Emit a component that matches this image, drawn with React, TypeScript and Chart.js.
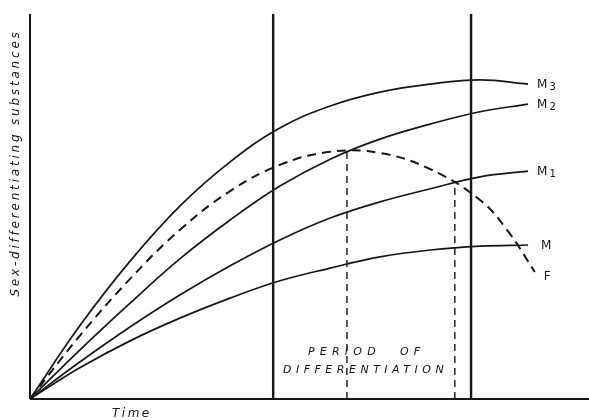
import React, { useEffect, useRef } from "react";
import { Chart, registerables } from "chart.js";

Chart.register(...registerables);

// Time axis (0..100) and substance level (0..100)
const timeX = [0, 8.9, 17.9, 26.8, 35.8, 44.7, 53.7, 62.6, 71.6, 80.5, 89.1];
const m3Y = [0, 19.0, 35.8, 50.1, 61.6, 70.4, 76.1, 79.7, 81.8, 82.9, 81.8];
const m2Y = [0, 12.7, 24.9, 36.4, 46.5, 55.3, 62.3, 67.5, 71.4, 74.6, 76.6];
const m1Y = [0, 9.6, 18.7, 27.0, 34.6, 41.3, 47.0, 51.2, 54.6, 57.7, 59.2];
const mY = [0, 8.1, 15.1, 21.0, 26.2, 30.7, 34.0, 36.9, 38.7, 39.7, 40.0];

const fX = [0, 8.9, 17.9, 26.8, 35.8, 44.7, 53.7, 62.6, 71.6, 80.5, 85.5, 90.3];
const fY = [0, 16.4, 31.2, 43.9, 54.0, 60.8, 64.2, 63.9, 59.7, 51.7, 43.6, 33.0];

const periodBounds = [43.5, 78.9];
const dropX = [56.7, 76.0];
const dropY = [64.2, 56.4];

const curveNames = ["M", "M", "M", "M", "F"];
const curveSubs = ["3", "2", "1", "", ""];

const yTitle = "Sex-differentiating substances";
const xTitle = "Time";
const periodWords = ["PERIOD", "OF"];
const periodLine2 = "DIFFERENTIATION";

const pts = (xs: number[], ys: number[]) => xs.map((x, i) => ({ x, y: ys[i] }));

const INK = "#161616";

export default function App() {
  const ref = useRef<HTMLCanvasElement | null>(null);

  useEffect(() => {
    document.body.style.margin = "0";
    const canvas = ref.current;
    if (!canvas) return;

    const curve = (data: any, dashed = false) => ({
      data,
      showLine: true,
      pointRadius: 0,
      borderColor: INK,
      borderWidth: dashed ? 2 : 1.7,
      borderDash: dashed ? [9, 6] : [],
      tension: 0.4,
      clip: false,
    });
    const straight = (data: any, width: number, dash: number[] = []) => ({
      data,
      showLine: true,
      pointRadius: 0,
      borderColor: INK,
      borderWidth: width,
      borderDash: dash,
      tension: 0,
      clip: false,
    });

    const curves = [
      pts(timeX, m3Y),
      pts(timeX, m2Y),
      pts(timeX, m1Y),
      pts(timeX, mY),
      pts(fX, fY),
    ];

    const textPlugin = {
      id: "texts",
      afterDatasetsDraw(chart: any) {
        const ctx = chart.ctx;
        const xs = chart.scales.x;
        const ys = chart.scales.y;
        ctx.save();
        ctx.fillStyle = INK;
        ctx.textBaseline = "middle";
        // curve labels
        curves.forEach((c, i) => {
          const last = c[c.length - 1];
          const px = xs.getPixelForValue(last.x) + (i === 3 ? 13 : 9);
          const py = ys.getPixelForValue(last.y) + (i === 4 ? 5 : 1);
          ctx.font = "12px 'DejaVu Sans'";
          ctx.textAlign = "left";
          ctx.fillText(curveNames[i], px, py);
          if (curveSubs[i]) {
            const w = ctx.measureText(curveNames[i]).width;
            ctx.font = "10px 'DejaVu Sans'";
            ctx.fillText(curveSubs[i], px + w + 2, py + 2);
          }
        });
        // y title
        ctx.save();
        ctx.translate(16, 163);
        ctx.rotate(-Math.PI / 2);
        ctx.font = "italic 12px 'DejaVu Sans'";
        (ctx as any).letterSpacing = "2.8px";
        ctx.textAlign = "center";
        ctx.fillText(yTitle, 0, 0);
        ctx.restore();
        // x title
        ctx.font = "italic 12px 'DejaVu Sans'";
        (ctx as any).letterSpacing = "2.5px";
        ctx.textAlign = "left";
        ctx.fillText(xTitle, 112, 414);
        // period labels
        ctx.font = "italic 11px 'DejaVu Sans'";
        (ctx as any).letterSpacing = "5.2px";
        ctx.fillText(periodWords[0], 308, 352);
        ctx.fillText(periodWords[1], 400, 352);
        (ctx as any).letterSpacing = "4.5px";
        ctx.fillText(periodLine2, 283, 370);
        ctx.restore();
      },
    };

    const chart = new Chart(canvas, {
      type: "scatter",
      data: {
        datasets: [
          straight([{ x: 0, y: 0 }, { x: 0, y: 100 }], 2),
          straight([{ x: 0, y: 0 }, { x: 100, y: 0 }], 2),
          straight([{ x: periodBounds[0], y: 0 }, { x: periodBounds[0], y: 100 }], 2.4),
          straight([{ x: periodBounds[1], y: 0 }, { x: periodBounds[1], y: 100 }], 2.4),
          straight([{ x: dropX[0], y: 0 }, { x: dropX[0], y: dropY[0] }], 1.4, [7, 5]),
          straight([{ x: dropX[1], y: 0 }, { x: dropX[1], y: dropY[1] }], 1.4, [7, 5]),
          curve(curves[0]),
          curve(curves[1]),
          curve(curves[2]),
          curve(curves[3]),
          curve(curves[4], true),
        ] as any,
      },
      options: {
        animation: false,
        responsive: false,
        events: [],
        layout: { padding: { left: 30, top: 14, right: 0, bottom: 21 } },
        plugins: { legend: { display: false }, tooltip: { enabled: false } },
        scales: {
          x: { type: "linear", min: 0, max: 100, display: false },
          y: { type: "linear", min: 0, max: 100, display: false },
        },
      },
      plugins: [textPlugin],
    });
    return () => chart.destroy();
  }, []);

  return (
    <div style={{ position: "fixed", left: 0, top: 0, width: 589, height: 420, background: "#fff" }}>
      <canvas ref={ref} width={589} height={420} />
    </div>
  );
}
